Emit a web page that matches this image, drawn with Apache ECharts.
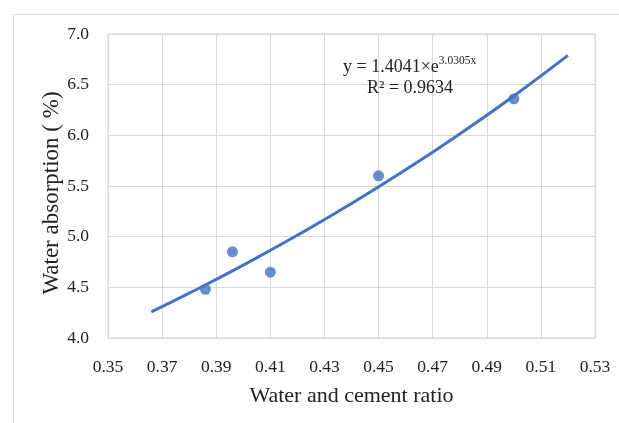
<!DOCTYPE html>
<html><head><meta charset="utf-8">
<script src="https://cdn.jsdelivr.net/npm/echarts@6/dist/echarts.min.js"></script>
<style>html,body{margin:0;padding:0;background:#fff}#c{width:619px;height:423px}</style>
</head><body><div id="c"></div>
<script>
// Measured points
const ratioValues = [0.386, 0.396, 0.41, 0.45, 0.50];
const absorptionValues = [4.48, 4.85, 4.65, 5.60, 6.36];
// Exponential trendline (y = 1.4041e^{3.0305x})
const trendX = [0.366, 0.38, 0.40, 0.42, 0.44, 0.46, 0.48, 0.50, 0.52];
const trendY = [4.257, 4.442, 4.719, 5.014, 5.327, 5.660, 6.014, 6.389, 6.789];
const xTicks = ['0.35','0.37','0.39','0.41','0.43','0.45','0.47','0.49','0.51','0.53'];
const yTicks = ['4.0','4.5','5.0','5.5','6.0','6.5','7.0'];

const FONT = '"Liberation Serif", serif';
const chart = echarts.init(document.getElementById('c'), null, {renderer: 'canvas'});
chart.setOption({
  animation: false,
  backgroundColor: '#fff',
  grid: {left: 108, right: 24, top: 34, bottom: 85, show: true, borderColor: '#d9d9d9', borderWidth: 1},
  xAxis: {
    type: 'value', min: 0.35, max: 0.53, interval: 0.02,
    name: 'Water and cement ratio', nameLocation: 'middle', nameGap: 47,
    nameTextStyle: {fontFamily: FONT, fontSize: 22, color: '#222'},
    axisLine: {show: true, lineStyle: {color: '#d9d9d9'}},
    axisTick: {show: false},
    splitLine: {show: true, lineStyle: {color: '#d9d9d9'}},
    axisLabel: {fontFamily: FONT, fontSize: 17.5, color: '#222', margin: 20,
      formatter: v => { const i = Math.round((v - 0.35) / 0.02); return xTicks[i] || ''; }}
  },
  yAxis: {
    type: 'value', min: 4.0, max: 7.0, interval: 0.5,
    axisLine: {show: true, lineStyle: {color: '#d9d9d9'}},
    axisTick: {show: false},
    splitLine: {show: true, lineStyle: {color: '#d9d9d9'}},
    axisLabel: {fontFamily: FONT, fontSize: 17.5, color: '#222', margin: 19,
      formatter: v => { const i = Math.round((v - 4.0) / 0.5); return yTicks[i] || ''; }}
  },
  series: [
    {type: 'line', data: trendX.map((x, i) => [x, trendY[i]]), smooth: true, showSymbol: false,
     lineStyle: {color: '#4472C4', width: 3}, z: 2},
    {type: 'scatter', data: ratioValues.map((x, i) => [x, absorptionValues[i]]), symbolSize: 11,
     itemStyle: {color: '#4472C4'}, z: 3}
  ],
  graphic: [
    {type: 'rect', left: 11, top: 12, shape: {width: 700, height: 500}, style: {fill: 'none', stroke: '#d9d9d9', lineWidth: 1}, z: -1},
    {type: 'text', x: 52, y: 193, rotation: Math.PI / 2, z: 10, style: {
      text: 'Water absorption ( %)', fontFamily: FONT, fontSize: 23, fill: '#222',
      align: 'center', verticalAlign: 'middle'}},
    {type: 'text', left: 343, top: 55, z: 10, style: {
      text: '{a|y = 1.4041×e}{s|3.0305x}', rich: {
        a: {fontFamily: FONT, fontSize: 18, fill: '#222', verticalAlign: 'bottom'},
        s: {fontFamily: FONT, fontSize: 11.5, fill: '#222', verticalAlign: 'top', padding: [0,0,9,0]}
      }}},
    {type: 'text', left: 367, top: 79, z: 10, style: {text: 'R² = 0.9634', fontFamily: FONT, fontSize: 18, fill: '#222'}}
  ]
});
</script></body></html>
